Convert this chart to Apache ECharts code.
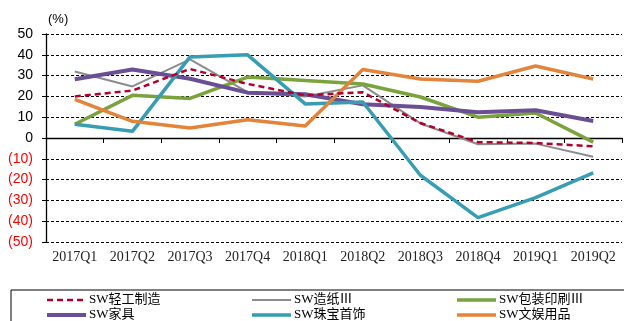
<!DOCTYPE html>
<html>
<head>
<meta charset="utf-8">
<script src="https://cdn.jsdelivr.net/npm/echarts@6/dist/echarts.min.js"></script>
<style>
  html, body { margin: 0; padding: 0; background: #fff; }
  #chart { width: 624px; height: 321px; }
</style>
</head>
<body>
<div id="chart"></div>
<script>
// Quarterly categories
const quarters = ['2017Q1', '2017Q2', '2017Q3', '2017Q4', '2018Q1', '2018Q2', '2018Q3', '2018Q4', '2019Q1', '2019Q2'];

// Sub-industry growth rates (%)
const lightIndustry = [20, 22.8, 33.2, 26, 20.5, 22, 7.2, -2, -2.4, -4];
const paper = [32, 24.8, 37.8, 22, 20, 25.3, 7, -3, -2.7, -9];
const packaging = [6.6, 20.5, 19, 29.3, 27.7, 26, 19.7, 10, 12, -2];
const furniture = [28.2, 32.9, 28.5, 21.8, 21, 16.2, 14.9, 12.4, 13.3, 8.2];
const jewelry = [6.6, 3.2, 39, 40, 16.4, 17.3, -17.9, -38.3, -28.7, -16.8];
const entertainment = [18.6, 8, 4.8, 8.8, 5.8, 32.9, 28.4, 27.3, 34.6, 28.4];

// Y-axis range and step
const yMin = -50, yMax = 50, yStep = 10;

// Legend order: row by row, three per row
const names = ['SW轻工制造', 'SW造纸Ⅲ', 'SW包装印刷Ⅲ', 'SW家具', 'SW珠宝首饰', 'SW文娱用品'];

const chart = echarts.init(document.getElementById('chart'), null, { renderer: 'canvas' });

const serifFont = "'Liberation Serif', 'Noto Sans CJK SC', serif";
const sansFont = "'Liberation Sans', Arial, sans-serif";

// Line styles per series, keyed by name
const styles = {
  'SW轻工制造': { color: '#b3002a', width: 2.5, type: [6, 4] },
  'SW造纸Ⅲ': { color: '#8c8c8c', width: 2, type: 'solid' },
  'SW包装印刷Ⅲ': { color: '#7ba33c', width: 3.5, type: 'solid' },
  'SW家具': { color: '#6b4f95', width: 4, type: 'solid' },
  'SW珠宝首饰': { color: '#379db3', width: 3.5, type: 'solid' },
  'SW文娱用品': { color: '#e3843a', width: 3.5, type: 'solid' }
};

function lineSeries(name, data, z) {
  const s = styles[name];
  return {
    name: name,
    type: 'line',
    data: data,
    xAxisIndex: 0,
    z: z,
    symbol: 'none',
    showSymbol: false,
    smooth: false,
    lineStyle: { color: s.color, width: s.width, type: s.type },
    itemStyle: { color: s.color },
    emphasis: { disabled: true },
    animation: false
  };
}

// Key box below the plot: three columns, two rows
const keyCols = [47, 252, 457];
const keyRows = [300, 315];
const keyItems = [];
names.forEach((n, i) => {
  const s = styles[n];
  const x = keyCols[i % 3];
  const y = keyRows[Math.floor(i / 3)];
  keyItems.push({
    type: 'line',
    silent: true,
    shape: { x1: x, y1: y, x2: x + 39, y2: y },
    style: {
      stroke: s.color,
      lineWidth: s.width,
      lineDash: Array.isArray(s.type) ? s.type : null
    }
  });
  keyItems.push({
    type: 'text',
    silent: true,
    x: x + 42,
    y: y,
    style: {
      text: n,
      font: '13px ' + serifFont,
      fill: '#000',
      verticalAlign: 'middle',
      align: 'left'
    }
  });
});

chart.setOption({
  backgroundColor: '#fff',
  animation: false,
  grid: { left: 46, right: 2, top: 34, bottom: 79, containLabel: false, outerBoundsMode: 'none' },
  xAxis: [
    {
      type: 'category',
      data: quarters,
      boundaryGap: true,
      position: 'bottom',
      axisLine: { show: true, onZero: true, lineStyle: { color: '#000', width: 1.3 } },
      axisTick: { show: true, length: 5, alignWithLabel: false, lineStyle: { color: '#000', width: 1 } },
      splitLine: { show: false },
      axisLabel: { show: false }
    },
    {
      type: 'category',
      data: quarters,
      boundaryGap: true,
      position: 'bottom',
      offset: 0,
      axisLine: { show: false, onZero: false },
      axisTick: { show: false },
      splitLine: { show: false },
      axisLabel: { interval: 0, fontFamily: serifFont, fontSize: 14, color: '#222', margin: 8 }
    }
  ],
  yAxis: {
    type: 'value',
    min: yMin,
    max: yMax,
    interval: yStep,
    axisLine: { show: true, lineStyle: { color: '#000', width: 1.3 } },
    axisTick: { show: true, length: 4, lineStyle: { color: '#000' } },
    splitLine: { show: true, lineStyle: { color: '#000', type: [3, 2], width: 1 } },
    axisLabel: {
      fontFamily: sansFont,
      fontSize: 14,
      margin: 13,
      formatter: v => (v < 0 ? '(' + (-v) + ')' : String(v)),
      color: v => (Number(v) < 0 ? '#ff0000' : '#000')
    }
  },
  graphic: [
    {
      type: 'rect',
      silent: true,
      shape: { x: 11, y: 290, width: 640, height: 50 },
      style: { fill: 'none', stroke: '#000', lineWidth: 1 }
    },
    {
      type: 'text',
      silent: true,
      x: 48,
      y: 13,
      style: { text: '(%)', font: '13px ' + sansFont, fill: '#000' }
    }
  ].concat(keyItems),
  series: [
    lineSeries('SW造纸Ⅲ', paper, 2),
    lineSeries('SW包装印刷Ⅲ', packaging, 2),
    lineSeries('SW家具', furniture, 2),
    lineSeries('SW珠宝首饰', jewelry, 2),
    lineSeries('SW文娱用品', entertainment, 2),
    lineSeries('SW轻工制造', lightIndustry, 3)
  ]
});
</script>
</body>
</html>
